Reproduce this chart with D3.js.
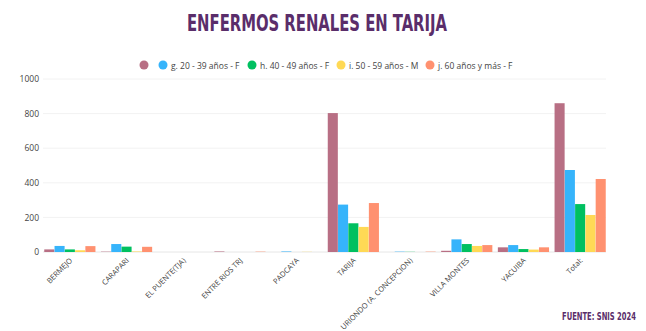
<!DOCTYPE html>
<html><head><meta charset="utf-8">
<script src="https://cdn.jsdelivr.net/npm/d3@7"></script>
<style>
body{margin:0;background:#fff;}
svg{display:block;}
</style></head>
<body>
<svg id="c" width="646" height="331"></svg>
<script>
const categories = ["BERMEJO","CARAPARI","EL PUENTE(TJA)","ENTRE RIOS TRJ","PADCAYA","TARIJA","URIONDO (A. CONCEPCION)","VILLA MONTES","YACUIBA","Total:"];
const seriesNames = ["", "g. 20 - 39 años - F", "h. 40 - 49 años - F", "i. 50 - 59 años - M", "j. 60 años y más - F"];
const colors = ["#b86f84", "#36b4fb", "#00c060", "#ffd955", "#ff9170"];
const s0 = [15, 2, 0, 3, 0, 803, 0, 7, 27, 860];
const s1 = [35, 46, 0, 0, 3, 274, 2, 73, 40, 474];
const s2 = [15, 31, 0, 0, 0, 166, 1, 46, 17, 277];
const s3 = [10, 3, 0, 0, 1, 145, 0, 35, 14, 214];
const s4 = [34, 30, 0, 2, 0, 283, 2, 40, 27, 422];
const series = [s0, s1, s2, s3, s4];
const yTicks = [0, 200, 400, 600, 800, 1000];

const svg = d3.select("#c");
const x0 = d3.scaleBand().domain(categories).range([41.5, 608.5]).paddingInner(0.09).paddingOuter(0.045);
const x1 = d3.scaleBand().domain(d3.range(series.length)).range([0, x0.bandwidth()]).padding(0.02);
const y = d3.scaleLinear().domain([0, 1000]).range([252, 79]);

// title
svg.append("text").attr("x", 187).attr("y", 31).attr("text-anchor", "start")
  .attr("font-family", "'Liberation Sans Narrow', 'DejaVu Sans Condensed', sans-serif")
  .attr("font-weight", "bold").attr("font-size", 23.5).attr("fill", "#5a2d6a")
  .attr("textLength", 260).attr("lengthAdjust", "spacingAndGlyphs")
  .text("ENFERMOS RENALES EN TARIJA");

// legend
const legX = [144, 163, 252, 341, 430];
seriesNames.forEach((n, i) => {
  svg.append("circle").attr("cx", legX[i]).attr("cy", 65).attr("r", 4.5).attr("fill", colors[i]);
  if (n) svg.append("text").attr("x", legX[i] + 8).attr("y", 68.5)
    .attr("font-family", "'Open Sans', sans-serif").attr("font-size", 8.5).attr("fill", "#444").text(n);
});

// grid
svg.append("g").selectAll("line").data(yTicks).join("line")
  .attr("x1", 43).attr("x2", 606).attr("y1", d => y(d)).attr("y2", d => y(d))
  .attr("stroke", d => d === 0 ? "#e6e6e6" : "#f2f2f2").attr("stroke-width", 1);

// y axis
const yAxis = d3.axisLeft(y).tickValues(yTicks).tickFormat(d3.format("d")).tickSize(0).tickPadding(0);
const ya = svg.append("g").attr("transform", "translate(39,0)").call(yAxis);
ya.select(".domain").remove();
ya.selectAll("text").attr("font-family", "'Open Sans', sans-serif").attr("font-size", 8.5).attr("fill", "#444").attr("dy", "0.32em");

// bars
const g = svg.append("g");
series.forEach((s, si) => {
  g.selectAll(".b" + si).data(s).join("rect")
    .attr("x", (d, i) => x0(categories[i]) + x1(si))
    .attr("width", x1.bandwidth())
    .attr("y", d => y(d))
    .attr("height", d => y(0) - y(d))
    .attr("fill", colors[si]);
});

// x axis labels
const xa = svg.append("g").attr("transform", "translate(0,252)").call(d3.axisBottom(x0).tickSize(0).tickPadding(0));
xa.select(".domain").remove();
xa.selectAll("text")
  .attr("font-family", "'Open Sans', sans-serif").attr("font-size", 7.5).attr("fill", "#444")
  .attr("text-anchor", "end").attr("dy", 0).attr("y", 0)
  .attr("transform", "translate(3,9) rotate(-45)");

// footer
svg.append("text").attr("x", 0).attr("y", 0).attr("text-anchor", "end")
  .attr("transform", "translate(636,320) scale(0.72,1)")
  .attr("font-family", "'Liberation Sans Narrow', 'DejaVu Sans Condensed', sans-serif")
  .attr("font-weight", "bold").attr("font-size", 10.5).attr("fill", "#5a2d6a")
  .text("FUENTE: SNIS 2024");
</script>
</body></html>
